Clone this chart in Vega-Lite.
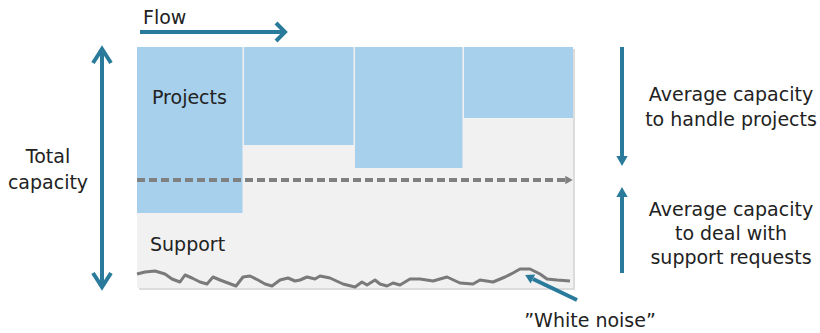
{
  "$schema": "https://vega.github.io/schema/vega-lite/v6.json",
  "width": 820,
  "height": 333,
  "autosize": {"type": "fit", "contains": "padding"},
  "padding": 0,
  "background": "white",
  "config": {"view": {"stroke": null}},
  "datasets": {
    "shadow": [{"x": 139, "x2": 575, "y": 49, "y2": 290}],
    "box": [{"x": 137, "x2": 573, "y": 47, "y2": 288}],
    "blocks": [
      {"period": 1, "x": 137, "x2": 242.5, "y": 47, "y2": 213},
      {"period": 2, "x": 244, "x2": 353.5, "y": 47, "y2": 145},
      {"period": 3, "x": 355, "x2": 462.5, "y": 47, "y2": 168},
      {"period": 4, "x": 464, "x2": 573, "y": 47, "y2": 118}
    ],
    "average": [{"x": 137, "x2": 567, "y": 180}],
    "averageHead": [{"x": 569, "y": 180}],
    "noise": [
      {"x": 137, "y": 274}, {"x": 145, "y": 272}, {"x": 155, "y": 271}, {"x": 165, "y": 274},
      {"x": 172, "y": 279}, {"x": 180, "y": 282}, {"x": 185, "y": 275}, {"x": 192, "y": 278},
      {"x": 200, "y": 282}, {"x": 207, "y": 284}, {"x": 213, "y": 277}, {"x": 220, "y": 280},
      {"x": 228, "y": 283}, {"x": 236, "y": 286}, {"x": 243, "y": 277}, {"x": 250, "y": 276},
      {"x": 258, "y": 280}, {"x": 265, "y": 284}, {"x": 272, "y": 286}, {"x": 280, "y": 280},
      {"x": 288, "y": 278}, {"x": 295, "y": 281}, {"x": 300, "y": 280}, {"x": 307, "y": 277},
      {"x": 315, "y": 279}, {"x": 320, "y": 276}, {"x": 330, "y": 278}, {"x": 343, "y": 284},
      {"x": 355, "y": 287}, {"x": 362, "y": 282}, {"x": 367, "y": 285}, {"x": 375, "y": 280},
      {"x": 380, "y": 284}, {"x": 387, "y": 286}, {"x": 393, "y": 283}, {"x": 400, "y": 285},
      {"x": 410, "y": 279}, {"x": 420, "y": 279}, {"x": 433, "y": 281}, {"x": 447, "y": 277},
      {"x": 460, "y": 283}, {"x": 473, "y": 284}, {"x": 480, "y": 280}, {"x": 493, "y": 282},
      {"x": 505, "y": 277}, {"x": 513, "y": 273}, {"x": 520, "y": 269}, {"x": 530, "y": 269},
      {"x": 540, "y": 274}, {"x": 547, "y": 279}, {"x": 557, "y": 280}, {"x": 570, "y": 281}
    ],
    "arrows": [
      {"id": "flow", "o": 1, "x": 140, "y": 32}, {"id": "flow", "o": 2, "x": 283, "y": 32},
      {"id": "flowHead", "o": 1, "x": 276, "y": 23}, {"id": "flowHead", "o": 2, "x": 285, "y": 32}, {"id": "flowHead", "o": 3, "x": 276, "y": 41},
      {"id": "total", "o": 1, "x": 102, "y": 50}, {"id": "total", "o": 2, "x": 102, "y": 286},
      {"id": "totalTop", "o": 1, "x": 93, "y": 63}, {"id": "totalTop", "o": 2, "x": 102, "y": 49}, {"id": "totalTop", "o": 3, "x": 111, "y": 63},
      {"id": "totalBottom", "o": 1, "x": 93, "y": 273}, {"id": "totalBottom", "o": 2, "x": 102, "y": 287}, {"id": "totalBottom", "o": 3, "x": 111, "y": 273},
      {"id": "projects", "o": 1, "x": 622, "y": 47}, {"id": "projects", "o": 2, "x": 622, "y": 158},
      {"id": "support", "o": 1, "x": 622, "y": 196}, {"id": "support", "o": 2, "x": 622, "y": 273},
      {"id": "noise", "o": 1, "x": 577, "y": 300}, {"id": "noise", "o": 2, "x": 533, "y": 279}
    ],
    "headsDown": [{"x": 622, "y": 161}],
    "headsUp": [{"x": 622, "y": 192}],
    "headsNoise": [{"x": 529, "y": 277}],
    "labelsLeft": [
      {"label": "Flow", "x": 143, "y": 18},
      {"label": "Projects", "x": 152, "y": 98},
      {"label": "Support", "x": 150, "y": 245}
    ],
    "labelsCenter": [
      {"label": "Total", "x": 48, "y": 157},
      {"label": "capacity", "x": 48, "y": 183},
      {"label": "Average capacity", "x": 731, "y": 95},
      {"label": "to handle projects", "x": 731, "y": 120},
      {"label": "Average capacity", "x": 731, "y": 210},
      {"label": "to deal with", "x": 731, "y": 234},
      {"label": "support requests", "x": 731, "y": 258},
      {"label": "”White noise”", "x": 590, "y": 321}
    ]
  },
  "layer": [
    {
      "data": {"name": "shadow"},
      "mark": {"type": "rect", "fill": "#dcdcdc"},
      "encoding": {
        "x": {"field": "x", "type": "quantitative", "scale": {"domain": [0, 820], "nice": false, "zero": false}, "axis": null},
        "x2": {"field": "x2"},
        "y": {"field": "y", "type": "quantitative", "scale": {"domain": [0, 333], "nice": false, "zero": false, "reverse": true}, "axis": null},
        "y2": {"field": "y2"}
      }
    },
    {
      "data": {"name": "box"},
      "mark": {"type": "rect", "fill": "#f1f1f1"},
      "encoding": {
        "x": {"field": "x", "type": "quantitative"},
        "x2": {"field": "x2"},
        "y": {"field": "y", "type": "quantitative"},
        "y2": {"field": "y2"}
      }
    },
    {
      "data": {"name": "blocks"},
      "mark": {"type": "rect", "fill": "#a7d0ec"},
      "encoding": {
        "x": {"field": "x", "type": "quantitative"},
        "x2": {"field": "x2"},
        "y": {"field": "y", "type": "quantitative"},
        "y2": {"field": "y2"}
      }
    },
    {
      "data": {"name": "average"},
      "mark": {"type": "rule", "stroke": "#808080", "strokeWidth": 4, "strokeDash": [8, 4]},
      "encoding": {
        "x": {"field": "x", "type": "quantitative"},
        "x2": {"field": "x2"},
        "y": {"field": "y", "type": "quantitative"}
      }
    },
    {
      "data": {"name": "averageHead"},
      "mark": {"type": "point", "shape": "triangle-right", "filled": true, "color": "#808080", "size": 75, "opacity": 1},
      "encoding": {
        "x": {"field": "x", "type": "quantitative"},
        "y": {"field": "y", "type": "quantitative"}
      }
    },
    {
      "data": {"name": "noise"},
      "mark": {"type": "line", "stroke": "#7a7a7a", "strokeWidth": 3, "strokeJoin": "round"},
      "encoding": {
        "x": {"field": "x", "type": "quantitative"},
        "y": {"field": "y", "type": "quantitative"}
      }
    },
    {
      "data": {"name": "arrows"},
      "mark": {"type": "line", "stroke": "#2a7b9b", "strokeWidth": 4, "strokeJoin": "miter", "strokeCap": "butt"},
      "encoding": {
        "x": {"field": "x", "type": "quantitative"},
        "y": {"field": "y", "type": "quantitative"},
        "detail": {"field": "id"},
        "order": {"field": "o"}
      }
    },
    {
      "data": {"name": "headsDown"},
      "mark": {"type": "point", "shape": "triangle-down", "filled": true, "color": "#2a7b9b", "size": 130, "opacity": 1},
      "encoding": {
        "x": {"field": "x", "type": "quantitative"},
        "y": {"field": "y", "type": "quantitative"}
      }
    },
    {
      "data": {"name": "headsUp"},
      "mark": {"type": "point", "shape": "triangle-up", "filled": true, "color": "#2a7b9b", "size": 130, "opacity": 1},
      "encoding": {
        "x": {"field": "x", "type": "quantitative"},
        "y": {"field": "y", "type": "quantitative"}
      }
    },
    {
      "data": {"name": "headsNoise"},
      "mark": {"type": "point", "shape": "triangle-up", "filled": true, "color": "#2a7b9b", "size": 100, "opacity": 1, "angle": 297},
      "encoding": {
        "x": {"field": "x", "type": "quantitative"},
        "y": {"field": "y", "type": "quantitative"}
      }
    },
    {
      "data": {"name": "labelsLeft"},
      "mark": {"type": "text", "align": "left", "baseline": "middle", "font": "DejaVu Sans", "fontSize": 19, "color": "#222222"},
      "encoding": {
        "x": {"field": "x", "type": "quantitative"},
        "y": {"field": "y", "type": "quantitative"},
        "text": {"field": "label"}
      }
    },
    {
      "data": {"name": "labelsCenter"},
      "mark": {"type": "text", "align": "center", "baseline": "middle", "font": "DejaVu Sans", "fontSize": 19, "color": "#222222"},
      "encoding": {
        "x": {"field": "x", "type": "quantitative"},
        "y": {"field": "y", "type": "quantitative"},
        "text": {"field": "label"}
      }
    }
  ]
}
